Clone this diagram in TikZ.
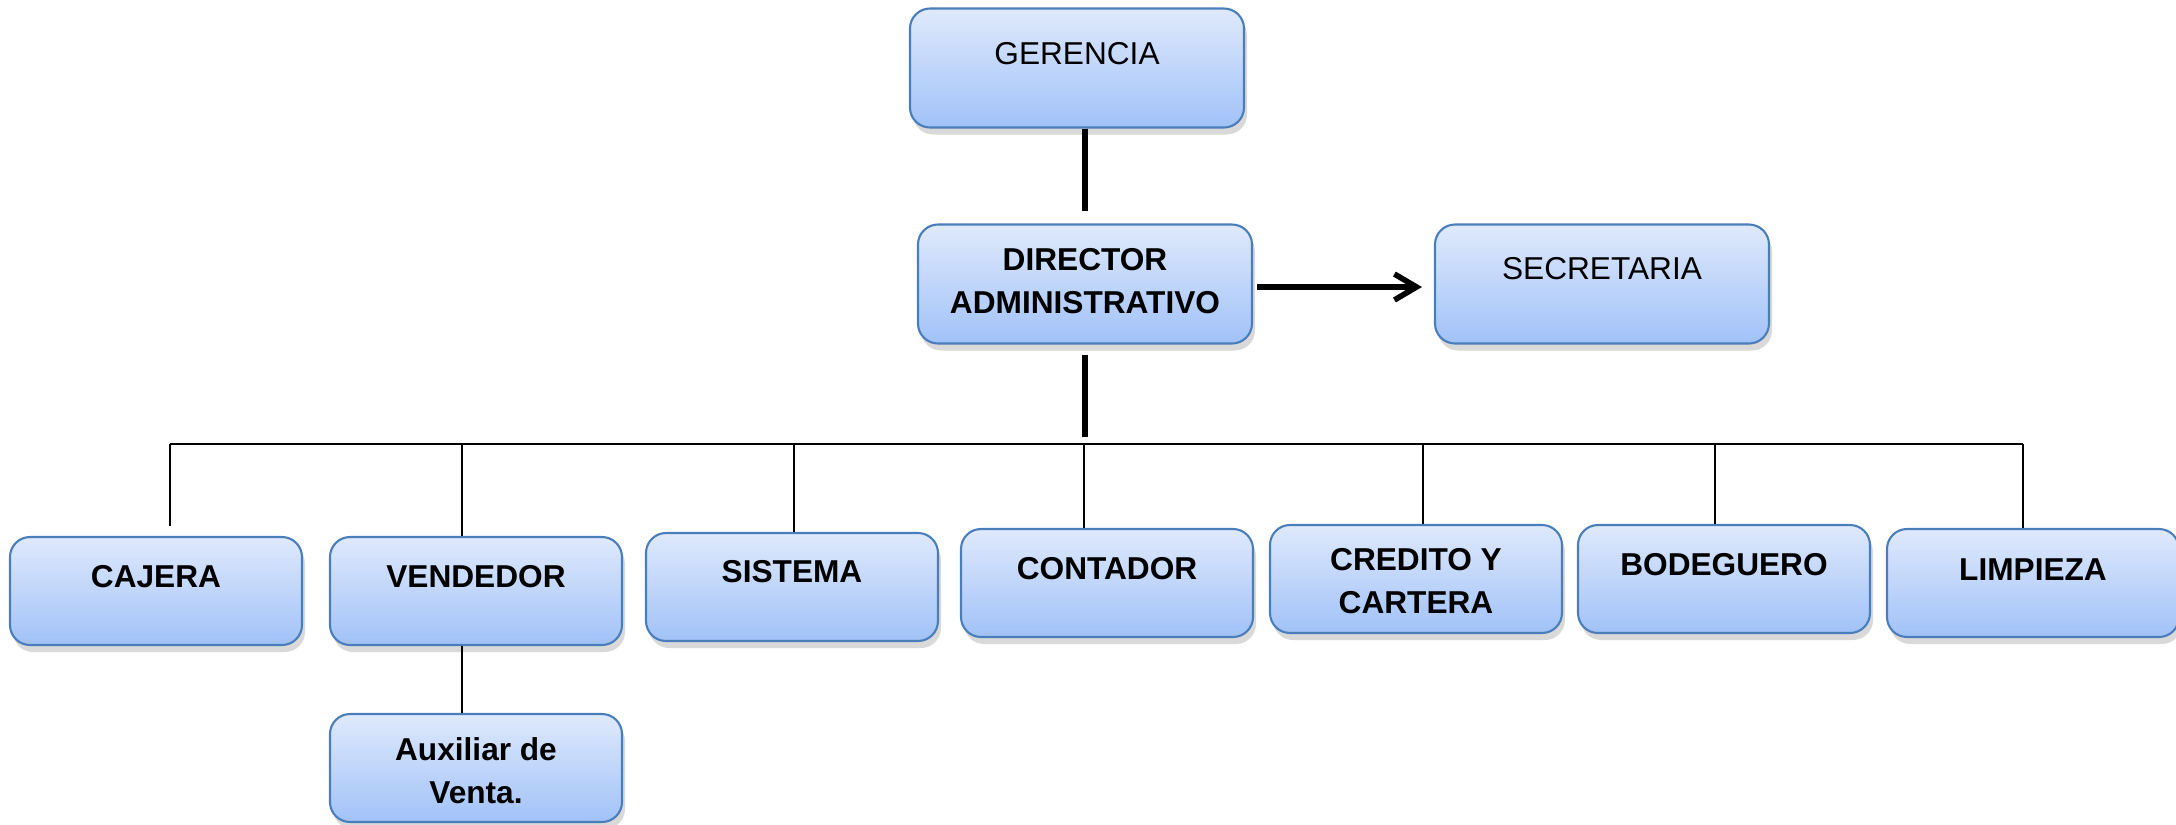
\documentclass[tikz,border=0pt]{standalone}
\usepackage{fontspec}
\setmainfont{Liberation Sans}
\usetikzlibrary{positioning,shadows,arrows.meta}
\definecolor{boxtop}{RGB}{223,233,252}
\definecolor{boxbot}{RGB}{161,194,248}
\definecolor{boxline}{RGB}{74,126,187}

\begin{document}
\begin{tikzpicture}[x=0.1mm, y=-0.1mm,
		box/.style={draw=boxline, line width=0.6pt, rounded corners=2mm,
			top color=boxtop, bottom color=boxbot,
			minimum width=29.2mm, minimum height=10.8mm,
			drop shadow={shadow xshift=0.3mm, shadow yshift=-0.7mm, opacity=0.3}},
		bigbox/.style={box, minimum width=33.4mm, minimum height=11.9mm},
		txt/.style={font=\fontsize{9}{12.2}\selectfont, align=center, inner sep=0pt},
		btxt/.style={txt, font=\fontsize{9}{12.2}\selectfont\bfseries},
		thickline/.style={line width=1.6pt},
		thinline/.style={line width=0.6pt}
		]
	\useasboundingbox (0,0) rectangle (2176,824);

	% top of the chart
	\node [bigbox] (ger) at (1077,68) {};
	\node [txt, below=3.4mm of ger.north] (gertxt) {GERENCIA};
	\node [bigbox] (dir) at (1085,284) {};
	\node [btxt, below=2.4mm of dir.north] (dirtxt) {DIRECTOR\\ADMINISTRATIVO};
	\node [bigbox] (sec) at (1602,284) {};
	\node [txt, below=3.3mm of sec.north] (sectxt) {SECRETARIA};

	% staff
	\node [box] (caj) at (156,591) {};
	\node [btxt, below=2.9mm of caj.north] (cajtxt) {CAJERA};
	\node [box] (ven) at (476,591) {};
	\node [btxt, below=2.9mm of ven.north] (ventxt) {VENDEDOR};
	\node [box] (aux) at (476,768) {};
	\node [btxt, below=2.4mm of aux.north] (auxtxt) {Auxiliar de\\Venta.};
	\node [box] (sis) at (792,587) {};
	\node [btxt, below=2.8mm of sis.north] (sistxt) {SISTEMA};
	\node [box] (con) at (1107,583) {};
	\node [btxt, below=2.9mm of con.north] (contxt) {CONTADOR};
	\node [box] (cre) at (1416,579) {};
	\node [btxt, below=2.4mm of cre.north] (cretxt) {CREDITO Y\\CARTERA};
	\node [box] (bod) at (1724,579) {};
	\node [btxt, below=2.9mm of bod.north] (bodtxt) {BODEGUERO};
	\node [box] (lim) at (2033,583) {};
	\node [btxt, below=3.0mm of lim.north] (limtxt) {LIMPIEZA};

	% connectors
	\coordinate (busl) at (170,444);
	\coordinate (busr) at (2023,444);
	\draw [thickline] (dir.north |- ger.south) -- ([yshift=1.2mm]dir.north);
	\draw [thickline, -{Straight Barb[length=2.2mm, width=2.6mm]}] ([xshift=0.4mm,yshift=-0.3mm]dir.east) -- ([xshift=-1.2mm,yshift=-0.3mm]sec.west);
	\draw [thickline] ([yshift=-1mm]dir.south) -- ([yshift=0.7mm]dir.south |- busl);
	\draw [thinline] (busl) -- (busr);
	\draw [thinline] (busl) -- ([yshift=1mm]busl |- caj.north);
	\draw [thinline] ([xshift=-1.4mm]ven.north |- busl) -- ([xshift=-1.4mm]ven.north);
	\draw [thinline] ([xshift=0.2mm]sis.north |- busl) -- ([xshift=0.2mm]sis.north);
	\draw [thinline] ([xshift=-2.3mm]con.north |- busl) -- ([xshift=-2.3mm]con.north);
	\draw [thinline] ([xshift=0.7mm]cre.north |- busl) -- ([xshift=0.7mm]cre.north);
	\draw [thinline] ([xshift=-0.9mm]bod.north |- busl) -- ([xshift=-0.9mm]bod.north);
	\draw [thinline] (busr) -- (busr |- lim.north);
	\draw [thinline] ([xshift=-1.4mm]ven.south) -- ([xshift=-1.4mm]aux.north);
\end{tikzpicture}
\end{document}
